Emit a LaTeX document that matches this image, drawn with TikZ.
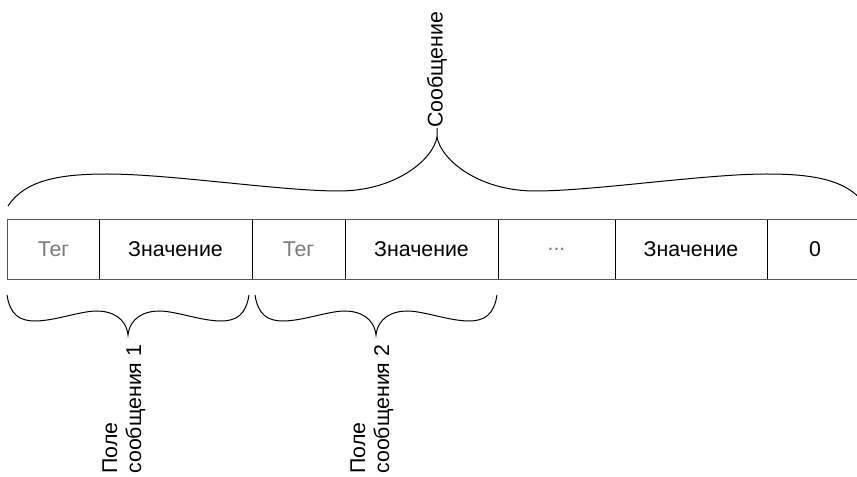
\documentclass[tikz,border=0pt]{standalone}
\usepackage{fontspec}
\setmainfont{Liberation Sans}
\definecolor{framegray}{HTML}{555555}
\definecolor{taggray}{HTML}{7A7A7A}
\begin{document}
\begin{tikzpicture}[x=0.75pt,y=-0.75pt,
	cell/.style={minimum height=44.25pt,inner sep=0pt,font=\fontsize{16}{18}\selectfont},
	tag_cell/.style={cell,text=taggray},
	label_node/.style={rotate=90,anchor=west,align=left,inner sep=0pt,font=\fontsize{16}{18}\selectfont},
	frame_line/.style={draw=framegray,line width=1pt},
	brace_line/.style={line width=0.75pt}]
	\useasboundingbox (0,0) rectangle (857,477);
	\clip (0,0) rectangle (857,477);
	
	\node[tag_cell,minimum width=68.25pt] (1) at (53.5,249.5) {Тег};
	\node[cell,minimum width=114.75pt] (2) at (175.5,249.5) {Значение};
	\node[tag_cell,minimum width=69.75pt] (3) at (298.5,249.5) {Тег};
	\node[cell,minimum width=114.75pt] (4) at (421.5,249.5) {Значение};
	\node[tag_cell,minimum width=87.75pt] (5) at (556.5,249.5) {...};
	\node[cell,minimum width=114pt] (6) at (691,249.5) {Значение};
	\node[cell,minimum width=72pt] (7) at (815,249.5) {0};
	
	\node[label_node] (msg) at (437,128) {Сообщение};
	\node[label_node] (f1) at (124,474) {Поле\\сообщения 1};
	\node[label_node] (f2) at (372,474) {Поле\\сообщения 2};
	
	\draw[line width=0.75pt] (1.north east) -- (1.south east);
	\draw[line width=0.75pt] (2.north east) -- (2.south east);
	\draw[line width=0.75pt] (3.north east) -- (3.south east);
	\draw[line width=0.75pt] (4.north east) -- (4.south east);
	\draw[line width=0.75pt] (5.north east) -- (5.south east);
	\draw[line width=0.75pt] (6.north east) -- (6.south east);
	\draw[frame_line] (7.north east) -- (1.north west) -- (1.south west) -- (7.south east);
	
	% braces
	\draw[brace_line] (8,206) .. controls (25,180) and (60,174) .. (107,174) .. controls (170,174) and (280,191) .. (339,191) .. controls (395,191) and (433,160) .. (437,137) -- (msg.west);
	\draw[brace_line] (437,137) .. controls (441,160) and (479,191) .. (535,191) .. controls (594,191) and (704,174) .. (767,174) .. controls (814,174) and (849,180) .. (866,206);
	\draw[brace_line] (7,295) .. controls (10,315) and (20,321) .. (35,321) .. controls (55,321) and (80,311) .. (97,311) .. controls (112,311) and (126,318) .. (128,335) .. controls (130,318) and (144,311) .. (159,311) .. controls (176,311) and (201,321) .. (221,321) .. controls (236,321) and (246,315) .. (249,295);
	\draw[brace_line] (255,295) .. controls (258,315) and (268,321) .. (283,321) .. controls (303,321) and (328,311) .. (345,311) .. controls (360,311) and (374,318) .. (376,335) .. controls (378,318) and (392,311) .. (407,311) .. controls (424,311) and (449,321) .. (469,321) .. controls (484,321) and (494,315) .. (497,295);
\end{tikzpicture}
\end{document}
